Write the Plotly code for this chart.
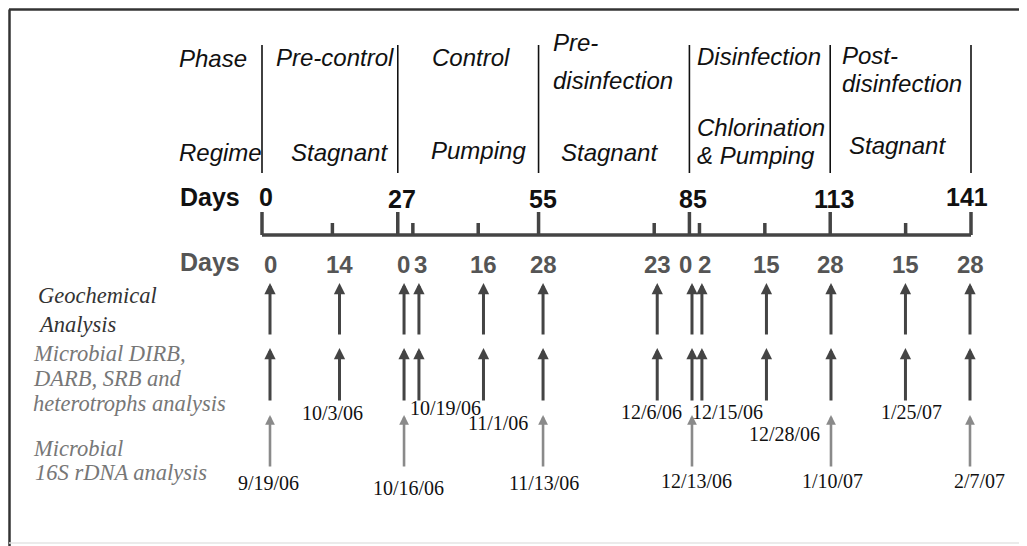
import plotly.graph_objects as go

# ---- data -------------------------------------------------------------
phase_bounds = [0, 27, 55, 85, 113, 141]
phase_names = [["Pre-control"], ["Control"], ["Pre-", "disinfection"],
               ["Disinfection"], ["Post-", "disinfection"]]
regime_names = [["Stagnant"], ["Pumping"], ["Stagnant"],
                ["Chlorination", "& Pumping"], ["Stagnant"]]

sample_days = [0, 14, 27, 30, 43, 55, 78, 85, 87, 100, 113, 128, 141]
phase_days = ["0", "14", "0", "3", "16", "28", "23", "0", "2", "15", "28", "15", "28"]
sample_dates = ["9/19/06", "10/3/06", "10/16/06", "10/19/06", "11/1/06", "11/13/06",
                "12/6/06", "12/13/06", "12/15/06", "12/28/06", "1/10/07", "1/25/07", "2/7/07"]
geochem_days = sample_days
microbial_days = sample_days
rdna_days = [0, 27, 55, 85, 113, 141]

# ---- layout helpers ---------------------------------------------------
W, H = 1027, 546
OFF = 8                              # page body margin around the plot div
FW, FH = W - OFF, H - OFF
X0_TOP, S_TOP = 262, 709 / 141       # upper scale (day -> window px)
X0_LOW, S_LOW = 270, 700 / 141       # lower scale for arrows
SANS = "Liberation Sans, Arial, sans-serif"
SERIF = "Liberation Serif, Times New Roman, serif"
DARK = "#444444"
LIGHT = "#8a8a8a"


def px(p):
    # window pixel -> paper fraction
    return (p - OFF) / FW


fig = go.Figure()

# phase separators
sx, sy = [], []
for d in phase_bounds:
    sx += [d, d, None]
    sy += [45, 173, None]
fig.add_trace(go.Scatter(x=sx, y=sy, mode="lines", line=dict(color="#111", width=1.6),
                         hoverinfo="skip", showlegend=False))

# time axis with major / minor ticks
fig.add_trace(go.Scatter(x=[phase_bounds[0], phase_bounds[-1]], y=[235, 235], mode="lines",
                         line=dict(color=DARK, width=3.5), hoverinfo="skip", showlegend=False))
tx, ty = [], []
for d in phase_bounds:
    tx += [d, d, None]
    ty += [212, 235, None]
minor = [d for d in sample_days if d not in phase_bounds]
for d in minor:
    tx += [d, d, None]
    ty += [223, 235, None]
fig.add_trace(go.Scatter(x=tx, y=ty, mode="lines", line=dict(color=DARK, width=3.5),
                         hoverinfo="skip", showlegend=False))

ann = []


def txt(x, y, s, size=24, color="#111", family=SANS, xref="paper", xanchor="center",
        xshift=0, italic=True, bold=False):
    if italic:
        s = "<i>" + s + "</i>"
    if bold:
        s = "<b>" + s + "</b>"
    ann.append(dict(x=x, y=y, xref=xref, yref="y", text=s, showarrow=False,
                    xanchor=xanchor, yanchor="middle", xshift=xshift,
                    font=dict(family=family, size=size, color=color)))


# row titles
txt(px(213), 58, "Phase")
txt(px(220), 152, "Regime")
txt(px(210), 197, "Days", size=25, italic=False, bold=True)
txt(px(210), 262, "Days", size=25, color="#555", italic=False, bold=True)

# phase / regime labels
phase_lay = [("c", 5, [57]), ("c", 3, [57]), ("l", 12, [42, 80]),
             ("l", 6, [56]), ("l", 10, [55, 83])]
regime_lay = [("c", 10, [152]), ("c", 10, [150]), ("c", -4, [152]),
              ("l", 6, [127, 155]), ("c", -3, [145])]
for i in range(len(phase_names)):
    a, b = phase_bounds[i], phase_bounds[i + 1]
    for names, lay in ((phase_names[i], phase_lay[i]), (regime_names[i], regime_lay[i])):
        mode, shift, ys = lay
        for line, y in zip(names, ys):
            if mode == "c":
                txt((a + b) / 2, y, line, xref="x", xshift=shift)
            else:
                txt(a, y, line, xref="x", xanchor="left", xshift=shift)

# upper day labels
for d in phase_bounds:
    txt(d, 197 if d in (0, 141) else 199, str(d), size=25, xref="x", italic=False, bold=True,
        xshift=4 if d < 141 else -4)

# lower day labels (the 0/3 and 0/2 pairs are nudged apart)
low_shift = {2: -1, 3: 2, 7: -6, 8: 3}
for i, (d, p) in enumerate(zip(sample_days, phase_days)):
    txt(d, 264, p, size=24, color="#555", xref="x2", italic=False, bold=True,
        xshift=low_shift.get(i, 0))

# left side labels
left_labels = [("Geochemical", 36, 295, "#333"), ("Analysis", 36, 324, "#333"),
               ("Microbial DIRB,", 31, 353, "#777"), ("DARB, SRB and", 31, 378, "#777"),
               ("heterotrophs analysis", 31, 403, "#777"),
               ("Microbial", 31, 448, "#777"), ("16S rDNA analysis", 33, 472, "#777")]
for s, x, y, c in left_labels:
    txt(px(x), y, s, size=22.5, color=c, family=SERIF, xanchor="left")


# arrows
def arrow(d, head, tail, color, width):
    ann.append(dict(x=d, y=head, ax=d, ay=tail, xref="x2", yref="y", axref="x2", ayref="y",
                    text="", showarrow=True, arrowhead=2, arrowsize=0.75,
                    arrowwidth=width, arrowcolor=color, standoff=0))


for d in geochem_days:
    arrow(d, 283, 336, DARK, 3)
for d in microbial_days:
    arrow(d, 348, 402, DARK, 3)
for d in rdna_days:
    arrow(d, 415, 468, LIGHT, 2.6)

# date labels
date_lay = {"9/19/06": (-2, 483), "10/3/06": (-7, 413), "10/16/06": (4, 488),
            "10/19/06": (27, 408), "11/1/06": (15, 423), "11/13/06": (1, 483),
            "12/6/06": (-6, 412), "12/13/06": (5, 481), "12/15/06": (26, 412),
            "12/28/06": (18, 434), "1/10/07": (2, 481), "1/25/07": (6, 412),
            "2/7/07": (9, 481)}
for d, s in zip(sample_days, sample_dates):
    dx, y = date_lay[s]
    txt(d, y, s, size=20, color="#111", family=SERIF, xref="x2", italic=False, xshift=dx)

# frame (top and left edges)
shapes = [dict(type="line", xref="paper", yref="y", x0=px(9), x1=1, y0=9.5, y1=9.5,
               line=dict(color="#333", width=2.5)),
          dict(type="line", xref="paper", yref="y", x0=px(9.5), x1=px(9.5), y0=9.5, y1=H,
               line=dict(color="#333", width=2.5)),
          dict(type="line", xref="paper", yref="y", x0=px(9), x1=1, y0=543, y1=543,
               line=dict(color="#e4e4e4", width=1.5))]

fig.update_layout(
    width=FW, height=FH, margin=dict(l=0, r=0, t=0, b=0),
    paper_bgcolor="white", plot_bgcolor="white",
    annotations=ann, shapes=shapes, showlegend=False,
    xaxis=dict(domain=[0, 1], range=[(OFF - X0_TOP) / S_TOP, (W - X0_TOP) / S_TOP],
               visible=False, fixedrange=True),
    xaxis2=dict(domain=[0, 1], range=[(OFF - X0_LOW) / S_LOW, (W - X0_LOW) / S_LOW],
                visible=False, overlaying="x", fixedrange=True),
    yaxis=dict(domain=[0, 1], range=[H, OFF], visible=False, fixedrange=True),
)

fig.write_html("out.html")
